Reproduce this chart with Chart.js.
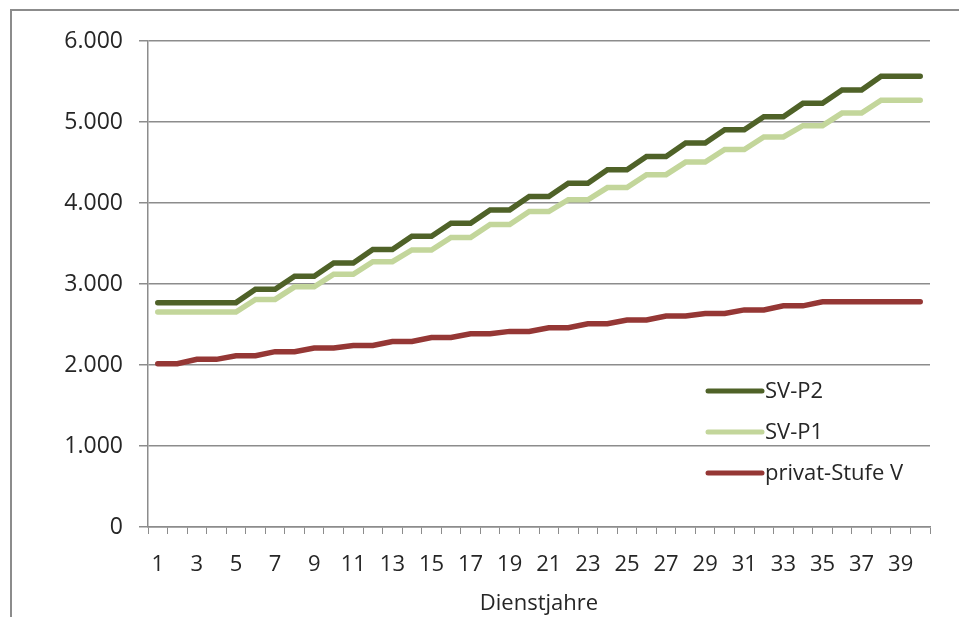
<!DOCTYPE html>
<html>
<head>
<meta charset="utf-8">
<title>Dienstjahre</title>
<script src="https://cdn.jsdelivr.net/npm/chart.js@4.4.1/dist/chart.umd.min.js"></script>
<style>
  body { margin: 0; background: #fff; }
  #wrap { position: relative; width: 959px; height: 617px; overflow: hidden; }
  /* grey frame of the chart object, cut at right and bottom */
  #frame { position: absolute; left: 10px; top: 9px; width: 980px; height: 640px;
           border-left: 2px solid #8c8c8c; border-top: 2px solid #8c8c8c; }
  #chart { position: absolute; left: 0; top: 0; }
</style>
</head>
<body>
<div id="wrap">
  <div id="frame"></div>
  <canvas id="chart" width="959" height="617"></canvas>
</div>
<script>
//data
const years = [1, 2, 3, 4, 5, 6, 7, 8, 9, 10, 11, 12, 13, 14, 15, 16, 17, 18, 19, 20,
  21, 22, 23, 24, 25, 26, 27, 28, 29, 30, 31, 32, 33, 34, 35, 36, 37, 38, 39, 40];

const svP2 = [2770, 2770, 2770, 2770, 2770, 2935, 2935, 3095, 3095, 3260,
  3260, 3425, 3425, 3590, 3590, 3750, 3750, 3915, 3915, 4080,
  4080, 4245, 4245, 4410, 4410, 4575, 4575, 4740, 4740, 4905,
  4905, 5065, 5065, 5230, 5230, 5395, 5395, 5565, 5565, 5565];

const svP1 = [2655, 2655, 2655, 2655, 2655, 2810, 2810, 2965, 2965, 3120,
  3120, 3275, 3275, 3420, 3420, 3575, 3575, 3735, 3735, 3895,
  3895, 4040, 4040, 4190, 4190, 4350, 4350, 4505, 4505, 4660,
  4660, 4815, 4815, 4955, 4955, 5110, 5110, 5270, 5270, 5270];

const privatV = [2015, 2015, 2070, 2070, 2115, 2115, 2165, 2165, 2210, 2210,
  2240, 2240, 2290, 2290, 2340, 2340, 2385, 2385, 2415, 2415,
  2460, 2460, 2510, 2510, 2555, 2555, 2605, 2605, 2635, 2635,
  2680, 2680, 2730, 2730, 2780, 2780, 2780, 2780, 2780, 2780];

const seriesNames = ["SV-P2", "SV-P1", "privat-Stufe V"];
const seriesColors = ["#4f6228", "#c3d69b", "#953735"];
const yTicks = [0, 1000, 2000, 3000, 4000, 5000, 6000];
const xTitle = "Dienstjahre";

const fontFamily = "'Open Sans', 'Liberation Sans', sans-serif";
const textColor = "#262626";
const gridColor = "#8c8c8c";

//legend drawn inside the plot, right side
const innerLegend = {
  id: "innerLegend",
  afterDraw(chart) {
    const ctx = chart.ctx;
    const x0 = 708, x1 = 762;
    const rows = [391, 432, 473];
    ctx.save();
    ctx.font = "22px " + fontFamily;
    ctx.textBaseline = "middle";
    ctx.fillStyle = textColor;
    chart.data.datasets.forEach((ds, i) => {
      ctx.strokeStyle = ds.borderColor;
      ctx.lineWidth = 5;
      ctx.lineCap = "round";
      ctx.beginPath();
      ctx.moveTo(x0, rows[i]);
      ctx.lineTo(x1, rows[i]);
      ctx.stroke();
      ctx.fillText(ds.label, x1 + 3, rows[i] + 1);
    });
    ctx.restore();
  }
};

function makeSet(i, values) {
  return {
    label: seriesNames[i],
    data: values,
    borderColor: seriesColors[i],
    backgroundColor: seriesColors[i],
    borderWidth: 5.5,
    borderCapStyle: "round",
    pointRadius: 0,
    tension: 0,
    fill: false
  };
}

const data = {
  labels: years,
  datasets: [makeSet(0, svP2), makeSet(1, svP1), makeSet(2, privatV)]
};

const config = {
  type: "line",
  data: data,
  plugins: [innerLegend],
  options: {
    responsive: false,
    animation: false,
    layout: { padding: { left: 0, top: 41, right: 29, bottom: 0 } },
    plugins: {
      legend: { display: false },
      tooltip: { enabled: false }
    },
    scales: {
      x: {
        offset: true,
        afterFit: (scale) => { scale.height = 90; },
        grid: {
          offset: true,
          drawOnChartArea: false,
          drawTicks: true,
          tickLength: 7,
          color: gridColor,
          lineWidth: 1
        },
        border: { color: gridColor, width: 1.5 },
        ticks: {
          autoSkip: false,
          maxRotation: 0,
          padding: 18,
          color: textColor,
          font: { family: fontFamily, size: 22 },
          callback: (val, idx) => idx % 2 === 0 ? String(years[idx]) : ""
        },
        title: {
          display: true,
          text: xTitle,
          color: textColor,
          font: { family: fontFamily, size: 22 },
          padding: { top: 8, bottom: 0 }
        }
      },
      y: {
        min: 0,
        max: 6000,
        afterFit: (scale) => { scale.width = 148; },
        afterBuildTicks: (scale) => { scale.ticks = yTicks.map(v => ({ value: v })); },
        grid: {
          color: gridColor,
          lineWidth: 1.5,
          drawTicks: true,
          tickLength: 9
        },
        border: { color: gridColor, width: 1.5 },
        ticks: {
          padding: 16,
          color: textColor,
          font: { family: fontFamily, size: 23 },
          callback: (v) => v === 0 ? "0" : (v / 1000) + ".000"
        }
      }
    }
  }
};

const lineChart = new Chart(document.getElementById("chart"), config);
</script>
</body>
</html>
